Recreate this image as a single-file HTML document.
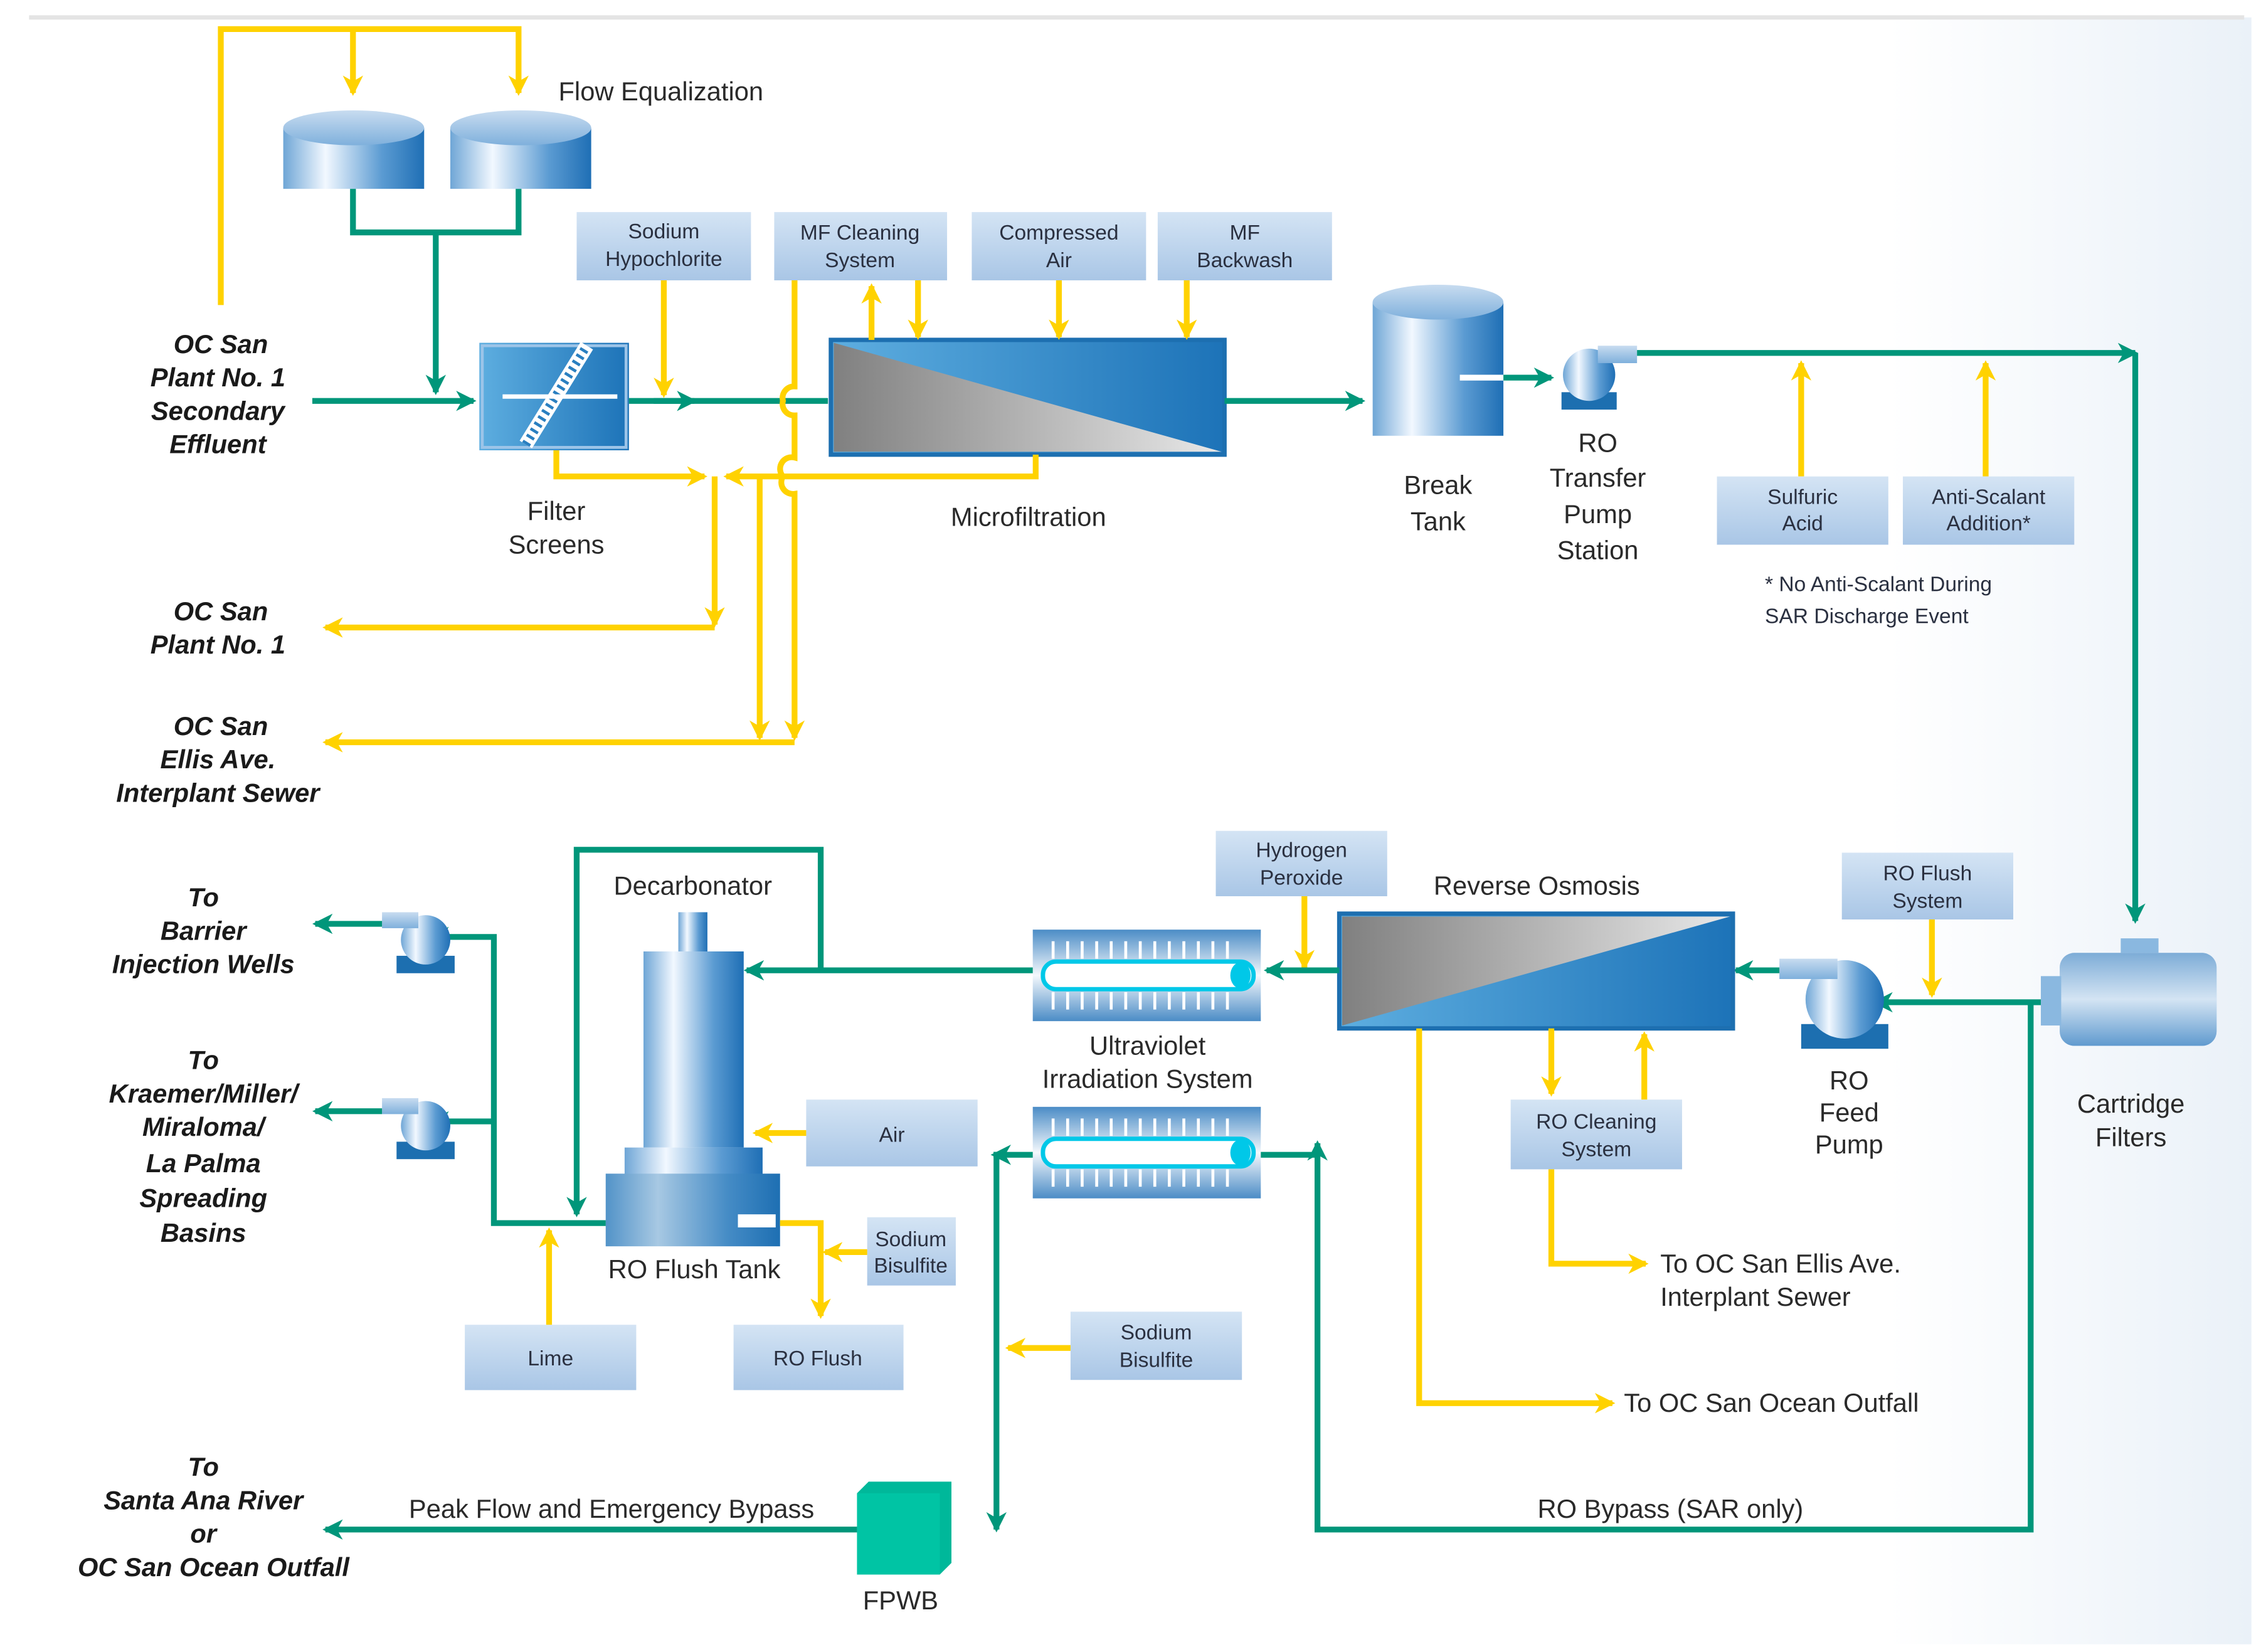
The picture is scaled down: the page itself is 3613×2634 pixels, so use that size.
<!DOCTYPE html>
<html><head><meta charset="utf-8"><style>
html,body{margin:0;padding:0;background:#fff;}
svg{display:block;}
.lbl{font-family:"Liberation Sans",sans-serif;fill:#2a2a2a;font-size:18px;text-anchor:middle;}
.it{font-family:"Liberation Sans",sans-serif;fill:#1a1a1a;font-size:18px;font-weight:bold;font-style:italic;text-anchor:middle;}
.bx{font-family:"Liberation Sans",sans-serif;fill:#2a3040;font-size:14.5px;text-anchor:middle;}
.g{stroke:#00967a;stroke-width:4;fill:none;}
.y{stroke:#ffd200;stroke-width:4;fill:none;}
</style></head><body>
<svg width="3613" height="2634" viewBox="0 0 1560 1137.3" xmlns="http://www.w3.org/2000/svg">
<defs>
<marker id="ag" viewBox="0 0 14 14" refX="12" refY="7" markerWidth="14" markerHeight="14" markerUnits="userSpaceOnUse" orient="auto"><path d="M0,0 L14,7 L0,14 L4,7z" fill="#00967a"/></marker>
<marker id="ay" viewBox="0 0 14 14" refX="12" refY="7" markerWidth="14" markerHeight="14" markerUnits="userSpaceOnUse" orient="auto"><path d="M0,0 L14,7 L0,14 L4,7z" fill="#ffd200"/></marker>
<linearGradient id="box" x1="0" y1="0" x2="0" y2="1"><stop offset="0" stop-color="#d4e4f4"/><stop offset="1" stop-color="#a9c6e6"/></linearGradient>
<linearGradient id="cyl" x1="0" y1="0" x2="1" y2="0"><stop offset="0" stop-color="#6fa6d6"/><stop offset="0.3" stop-color="#f2f8ff"/><stop offset="0.7" stop-color="#5b9bd2"/><stop offset="1" stop-color="#1f6fb5"/></linearGradient>
<linearGradient id="cylt" x1="0" y1="0" x2="0" y2="1"><stop offset="0" stop-color="#c8dcf0"/><stop offset="1" stop-color="#7fb0dc"/></linearGradient>
<linearGradient id="mem" x1="0" y1="0" x2="1" y2="0"><stop offset="0" stop-color="#5eaee0"/><stop offset="1" stop-color="#1d73b8"/></linearGradient>
<linearGradient id="gray" x1="0" y1="0" x2="1" y2="0"><stop offset="0" stop-color="#808080"/><stop offset="1" stop-color="#e8e8e8"/></linearGradient>
<linearGradient id="uv" x1="0" y1="0" x2="0" y2="1"><stop offset="0" stop-color="#4b8cc6"/><stop offset="0.5" stop-color="#f4f8fc"/><stop offset="1" stop-color="#4b8cc6"/></linearGradient>
<linearGradient id="bg" x1="0" y1="0" x2="1" y2="0"><stop offset="0" stop-color="#fff"/><stop offset="1" stop-color="#eaf1f8"/></linearGradient>
</defs>
<rect x="0" y="0" width="1560" height="1137.3" fill="#fff"/>
<rect x="1300" y="12" width="250" height="1120" fill="url(#bg)"/>
<line x1="20" y1="12" x2="1545" y2="12" stroke="#e4e4e4" stroke-width="3"/>

<path class="y" d="M152,210 V20 H357 V64" marker-end="url(#ay)"/>
<path class="y" d="M243,20 V64" marker-end="url(#ay)"/>
<g>
<rect x="195" y="88" width="97" height="42" fill="url(#cyl)"/><ellipse cx="243.5" cy="88" rx="48.5" ry="12" fill="url(#cylt)"/>
<rect x="310" y="88" width="97" height="42" fill="url(#cyl)"/><ellipse cx="358.5" cy="88" rx="48.5" ry="12" fill="url(#cylt)"/>
</g>
<text class="lbl" x="455" y="69">Flow Equalization</text>
<path class="g" d="M243,130 V160 H357 V130"/>
<path class="g" d="M300,160 V270" marker-end="url(#ag)"/>

<text class="it" x="152" y="243">OC San</text>
<text class="it" x="150" y="266">Plant No. 1</text>
<text class="it" x="150" y="289">Secondary</text>
<text class="it" x="150" y="312">Effluent</text>
<path class="g" d="M215,276 H326" marker-end="url(#ag)"/>

<rect x="330" y="236" width="103" height="74" fill="url(#mem)"/>
<rect x="332" y="238" width="99" height="70" fill="none" stroke="#9cc4e8" stroke-width="2"/>
<path d="M362,306 L404,238" stroke="#fff" stroke-width="10"/>
<path d="M362,306 L404,238" stroke="#2a7fc0" stroke-width="6" stroke-dasharray="2 3"/>
<line x1="346" y1="273" x2="425" y2="273" stroke="#fff" stroke-width="3"/>
<text class="lbl" x="383" y="358">Filter</text><text class="lbl" x="383" y="381">Screens</text>
<path class="g" d="M433,276 H570"/>
<path class="g" d="M450,276 H478" marker-end="url(#ag)"/>

<rect x="397" y="146" width="120" height="47" fill="url(#box)"/><text class="bx" x="457" y="164">Sodium</text><text class="bx" x="457" y="183">Hypochlorite</text>
<rect x="533" y="146" width="119" height="47" fill="url(#box)"/><text class="bx" x="592" y="165">MF Cleaning</text><text class="bx" x="592" y="184">System</text>
<rect x="669" y="146" width="120" height="47" fill="url(#box)"/><text class="bx" x="729" y="165">Compressed</text><text class="bx" x="729" y="184">Air</text>
<rect x="797" y="146" width="120" height="47" fill="url(#box)"/><text class="bx" x="857" y="165">MF</text><text class="bx" x="857" y="184">Backwash</text>
<path class="y" d="M457,193 V272" marker-end="url(#ay)"/>

<rect x="572" y="234" width="271" height="79" fill="url(#mem)"/>
<path d="M574,236 L841,311 L574,311z" fill="url(#gray)"/>
<rect x="572" y="234" width="271" height="79" fill="none" stroke="#1d6fb0" stroke-width="3"/>
<text class="lbl" x="708" y="362">Microfiltration</text>
<path class="y" d="M600,234 V197" marker-end="url(#ay)"/>
<path class="y" d="M632,193 V232" marker-end="url(#ay)"/>
<path class="y" d="M729,193 V232" marker-end="url(#ay)"/>
<path class="y" d="M817,193 V232" marker-end="url(#ay)"/>

<path class="y" d="M383,310 V328 H485" marker-end="url(#ay)"/>
<path class="y" d="M713,313 V328 H500" marker-end="url(#ay)"/>
<path class="y" d="M492,328 V430" marker-end="url(#ay)"/>
<path class="y" d="M492,432 H224" marker-end="url(#ay)"/>
<path class="y" d="M547,193 V266 a8,8 0 0 0 -8,10 a8,8 0 0 0 8,10 V315 a8,8 0 0 0 -8,13 a8,8 0 0 0 8,12 V508" marker-end="url(#ay)"/>
<path class="y" d="M523,328 V508" marker-end="url(#ay)"/>
<path class="y" d="M547,511 H224" marker-end="url(#ay)"/>

<text class="it" x="152" y="427">OC San</text><text class="it" x="150" y="450">Plant No. 1</text>
<text class="it" x="152" y="506">OC San</text><text class="it" x="150" y="529">Ellis Ave.</text><text class="it" x="150" y="552">Interplant Sewer</text>

<path class="g" d="M843,276 H938" marker-end="url(#ag)"/>
<rect x="945" y="208" width="90" height="92" fill="url(#cyl)"/><ellipse cx="990" cy="208" rx="45" ry="12" fill="url(#cylt)"/>
<line x1="1005" y1="260" x2="1035" y2="260" stroke="#fff" stroke-width="4"/>
<text class="lbl" x="990" y="340">Break</text><text class="lbl" x="990" y="365">Tank</text>
<path class="g" d="M1035,260 H1068" marker-end="url(#ag)"/>
<rect x="1075" y="270" width="38" height="12" fill="#1d6fb0"/>
<circle cx="1094" cy="258" r="18" fill="url(#cyl)"/>
<rect x="1100" y="238" width="27" height="12" fill="url(#cylt)"/>
<text class="lbl" x="1100" y="311">RO</text><text class="lbl" x="1100" y="335">Transfer</text><text class="lbl" x="1100" y="360">Pump</text><text class="lbl" x="1100" y="385">Station</text>
<path class="g" d="M1127,243 H1470" marker-end="url(#ag)"/>
<path class="g" d="M1470,243 V634" marker-end="url(#ag)"/>
<path class="y" d="M1240,328 V250" marker-end="url(#ay)"/>
<path class="y" d="M1367,328 V250" marker-end="url(#ay)"/>
<rect x="1182" y="328" width="118" height="47" fill="url(#box)"/><text class="bx" x="1241" y="347">Sulfuric</text><text class="bx" x="1241" y="365">Acid</text>
<rect x="1310" y="328" width="118" height="47" fill="url(#box)"/><text class="bx" x="1369" y="347">Anti-Scalant</text><text class="bx" x="1369" y="365">Addition*</text>
<text class="bx" x="1215" y="407" style="text-anchor:start">* No Anti-Scalant During</text>
<text class="bx" x="1215" y="429" style="text-anchor:start">SAR Discharge Event</text>

<rect x="1418" y="656" width="108" height="64" rx="10" fill="url(#cylt)"/>
<rect x="1418" y="656" width="108" height="64" rx="10" fill="url(#uv)" opacity="0.6"/>
<rect x="1405" y="672" width="14" height="34" fill="#8ab8e0"/>
<rect x="1460" y="646" width="26" height="10" fill="#8ab8e0"/>
<text class="lbl" x="1467" y="766">Cartridge</text><text class="lbl" x="1467" y="789">Filters</text>

<path class="g" d="M1405,690 H1291" marker-end="url(#ag)"/>
<path class="g" d="M1398,690 V1053 H907 V787" marker-end="url(#ag)"/>
<text class="lbl" x="1150" y="1045">RO Bypass (SAR only)</text>

<rect x="1240" y="705" width="60" height="17" fill="#1d6fb0"/>
<circle cx="1270" cy="688" r="27" fill="url(#cyl)"/>
<rect x="1225" y="660" width="40" height="14" fill="url(#cylt)"/>
<text class="lbl" x="1273" y="750">RO</text><text class="lbl" x="1273" y="772">Feed</text><text class="lbl" x="1273" y="794">Pump</text>
<rect x="1268" y="587" width="118" height="46" fill="url(#box)"/><text class="bx" x="1327" y="606">RO Flush</text><text class="bx" x="1327" y="625">System</text>
<path class="y" d="M1330,633 V685" marker-end="url(#ay)"/>
<path class="g" d="M1225,668 H1195" marker-end="url(#ag)"/>

<rect x="922" y="629" width="271" height="79" fill="url(#mem)"/>
<path d="M924,631 L1191,631 L924,706z" fill="url(#gray)"/>
<rect x="922" y="629" width="271" height="79" fill="none" stroke="#1d6fb0" stroke-width="3"/>
<text class="lbl" x="1058" y="616">Reverse Osmosis</text>
<rect x="837" y="572" width="118" height="45" fill="url(#box)"/><text class="bx" x="896" y="590">Hydrogen</text><text class="bx" x="896" y="609">Peroxide</text>
<path class="y" d="M898,617 V666" marker-end="url(#ay)"/>
<path class="g" d="M922,668 H872" marker-end="url(#ag)"/>

<path class="y" d="M1068,708 V753" marker-end="url(#ay)"/>
<path class="y" d="M1132,757 V712" marker-end="url(#ay)"/>
<rect x="1040" y="757" width="118" height="48" fill="url(#box)"/><text class="bx" x="1099" y="777">RO Cleaning</text><text class="bx" x="1099" y="796">System</text>
<path class="y" d="M1068,805 V870 H1133" marker-end="url(#ay)"/>
<text class="lbl" x="1143" y="876" style="text-anchor:start">To OC San Ellis Ave.</text>
<text class="lbl" x="1143" y="899" style="text-anchor:start">Interplant Sewer</text>
<path class="y" d="M977,708 V966 H1110" marker-end="url(#ay)"/>
<text class="lbl" x="1118" y="972" style="text-anchor:start">To OC San Ocean Outfall</text>

<g>
<rect x="711" y="640" width="157" height="63" fill="url(#uv)"/>
<path d="M725,648 V660 M735,648 V660 M745,648 V660 M755,648 V660 M765,648 V660 M775,648 V660 M785,648 V660 M795,648 V660 M805,648 V660 M815,648 V660 M825,648 V660 M835,648 V660 M845,648 V660 M725,683 V695 M735,683 V695 M745,683 V695 M755,683 V695 M765,683 V695 M775,683 V695 M785,683 V695 M795,683 V695 M805,683 V695 M815,683 V695 M825,683 V695 M835,683 V695 M845,683 V695" stroke="#fff" stroke-width="2"/>
<rect x="718" y="662" width="145" height="19" rx="9" fill="#fff" stroke="#00c8e8" stroke-width="3"/>
<ellipse cx="854" cy="671.5" rx="7" ry="9" fill="#00c8e8"/>
</g>
<g>
<rect x="711" y="762" width="157" height="63" fill="url(#uv)"/>
<path d="M725,770 V782 M735,770 V782 M745,770 V782 M755,770 V782 M765,770 V782 M775,770 V782 M785,770 V782 M795,770 V782 M805,770 V782 M815,770 V782 M825,770 V782 M835,770 V782 M845,770 V782 M725,805 V817 M735,805 V817 M745,805 V817 M755,805 V817 M765,805 V817 M775,805 V817 M785,805 V817 M795,805 V817 M805,805 V817 M815,805 V817 M825,805 V817 M835,805 V817 M845,805 V817" stroke="#fff" stroke-width="2"/>
<rect x="718" y="784" width="145" height="19" rx="9" fill="#fff" stroke="#00c8e8" stroke-width="3"/>
<ellipse cx="854" cy="793.5" rx="7" ry="9" fill="#00c8e8"/>
</g>
<text class="lbl" x="790" y="726">Ultraviolet</text><text class="lbl" x="790" y="749">Irradiation System</text>
<path class="g" d="M868,795 H907"/>
<path class="g" d="M711,668 H514" marker-end="url(#ag)"/>
<path class="g" d="M565,668 V585 H397 V836" marker-end="url(#ag)"/>
<path class="g" d="M711,795 H686 V1053" marker-end="url(#ag)"/>
<path class="g" d="M686,795 H684" marker-end="url(#ag)"/>

<text class="lbl" x="477" y="616">Decarbonator</text>
<rect x="467" y="628" width="20" height="28" fill="url(#cyl)"/>
<rect x="443" y="655" width="69" height="135" fill="url(#cyl)"/>
<rect x="430" y="790" width="95" height="20" fill="url(#cyl)"/>
<rect x="417" y="808" width="120" height="50" fill="url(#cyl)"/>
<rect x="417" y="808" width="120" height="50" fill="#1d6fb0" opacity="0.35"/>
<rect x="508" y="836" width="26" height="9" fill="#fff"/>
<text class="lbl" x="478" y="880">RO Flush Tank</text>
<rect x="555" y="757" width="118" height="46" fill="url(#box)"/><text class="bx" x="614" y="786">Air</text>
<path class="y" d="M555,780 H520" marker-end="url(#ay)"/>
<rect x="597" y="838" width="61" height="47" fill="url(#box)"/><text class="bx" x="627" y="858">Sodium</text><text class="bx" x="627" y="876">Bisulfite</text>
<path class="y" d="M597,862 H568" marker-end="url(#ay)"/>
<path class="y" d="M537,842 H565 V906" marker-end="url(#ay)"/>
<rect x="505" y="912" width="117" height="45" fill="url(#box)"/><text class="bx" x="563" y="940">RO Flush</text>
<rect x="320" y="912" width="118" height="45" fill="url(#box)"/><text class="bx" x="379" y="940">Lime</text>
<path class="y" d="M378,912 V847" marker-end="url(#ay)"/>

<path class="g" d="M417,842 H340 V645 H297" marker-end="url(#ag)"/>
<path class="g" d="M340,772 H297" marker-end="url(#ag)"/>
<g><rect x="273" y="658" width="40" height="12" fill="#1d6fb0"/><circle cx="293" cy="647" r="17" fill="url(#cyl)"/><rect x="263" y="628" width="25" height="11" fill="url(#cylt)"/></g>
<g><rect x="273" y="786" width="40" height="12" fill="#1d6fb0"/><circle cx="293" cy="775" r="17" fill="url(#cyl)"/><rect x="263" y="756" width="25" height="11" fill="url(#cylt)"/></g>
<path class="g" d="M263,636 H217" marker-end="url(#ag)"/>
<path class="g" d="M263,765 H217" marker-end="url(#ag)"/>

<text class="it" x="140" y="624">To</text><text class="it" x="140" y="647">Barrier</text><text class="it" x="140" y="670">Injection Wells</text>
<text class="it" x="140" y="736">To</text><text class="it" x="140" y="759">Kraemer/Miller/</text><text class="it" x="140" y="782">Miraloma/</text><text class="it" x="140" y="807">La Palma</text><text class="it" x="140" y="831">Spreading</text><text class="it" x="140" y="855">Basins</text>

<rect x="737" y="903" width="118" height="47" fill="url(#box)"/><text class="bx" x="796" y="922">Sodium</text><text class="bx" x="796" y="941">Bisulfite</text>
<path class="y" d="M737,928 H694" marker-end="url(#ay)"/>

<path class="g" d="M590,1053 H224" marker-end="url(#ag)"/>
<path d="M590,1028 L598,1020 L655,1020 L655,1076 L647,1084 L590,1084z" fill="#00b89a"/>
<rect x="590" y="1028" width="57" height="56" fill="#00c4a4"/>
<text class="lbl" x="620" y="1108">FPWB</text>
<text class="lbl" x="421" y="1045">Peak Flow and Emergency Bypass</text>
<text class="it" x="140" y="1016">To</text><text class="it" x="140" y="1039">Santa Ana River</text><text class="it" x="140" y="1062">or</text><text class="it" x="147" y="1085">OC San Ocean Outfall</text>
</svg>
</body></html>
